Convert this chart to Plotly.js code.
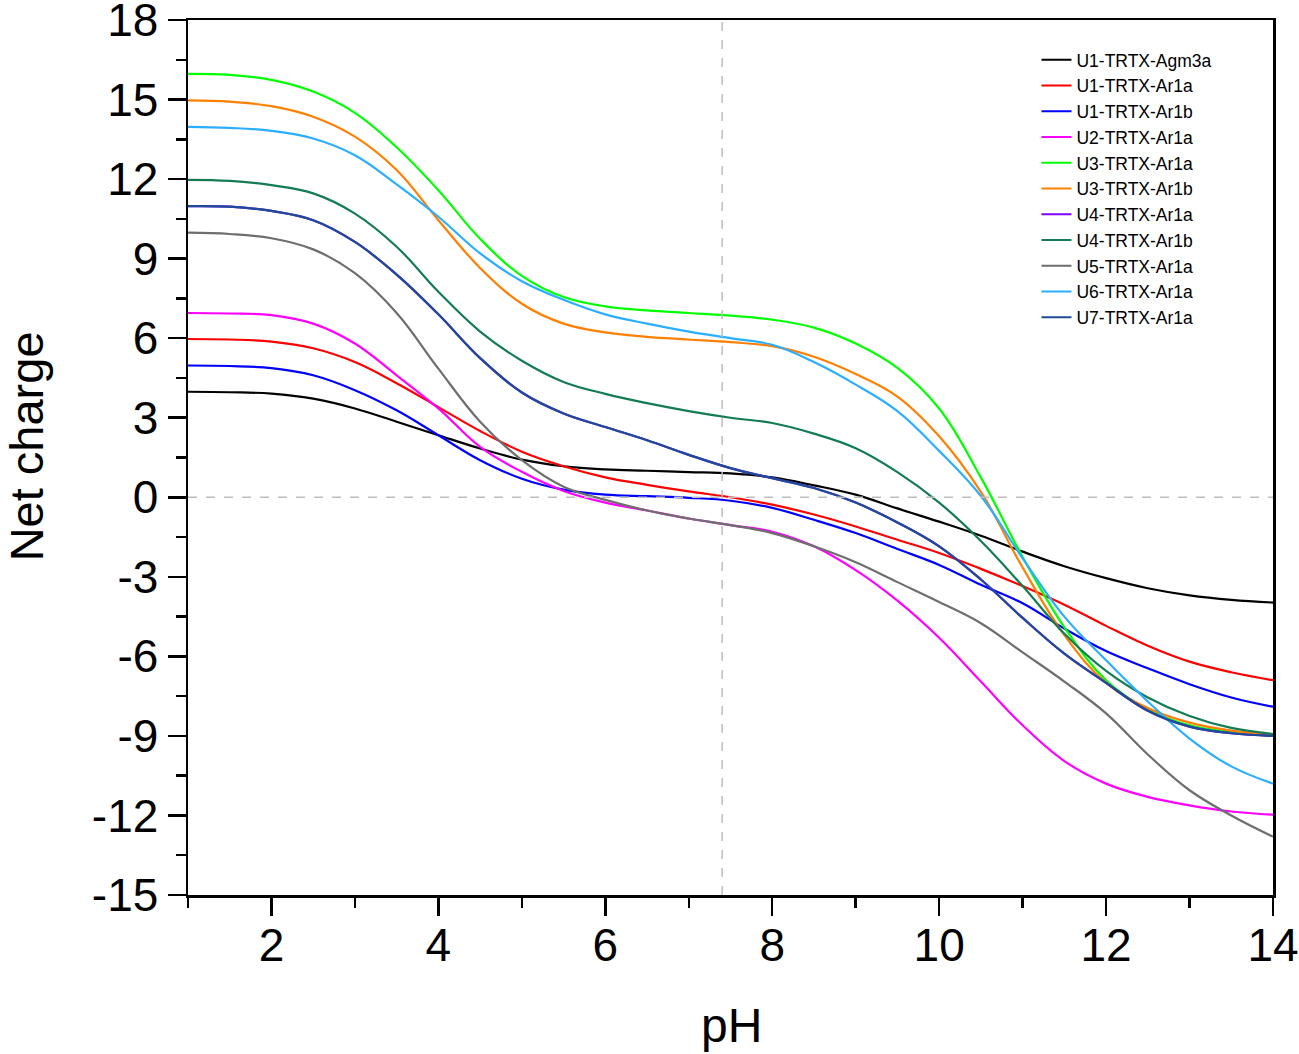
<!DOCTYPE html>
<html>
<head>
<meta charset="utf-8">
<script src="https://cdn.plot.ly/plotly-3.0.1.min.js"></script>
<style>html,body{margin:0;padding:0;background:#fff;}#chart{width:1299px;height:1054px;}</style>
</head>
<body>
<div id="chart"></div>
<script>
const pH = [1,1.5,2,2.5,3,3.5,4,4.5,5,5.5,6,6.5,7,7.5,8,8.5,9,9.5,10,10.5,11,11.5,12,12.5,13,13.5,14];

const U1_Agm3a = [3.98,3.96,3.91,3.72,3.35,2.85,2.34,1.84,1.42,1.17,1.05,1.0,0.95,0.9,0.75,0.45,0.1,-0.42,-0.92,-1.45,-2.05,-2.6,-3.05,-3.43,-3.7,-3.87,-3.97];
const U1_Ar1a  = [5.97,5.95,5.87,5.62,5.1,4.3,3.4,2.5,1.72,1.17,0.75,0.47,0.22,0.0,-0.28,-0.65,-1.1,-1.6,-2.1,-2.7,-3.35,-4.05,-4.85,-5.6,-6.2,-6.6,-6.9];
const U1_Ar1b  = [4.97,4.95,4.87,4.6,4.04,3.28,2.34,1.4,0.7,0.29,0.1,0.04,-0.02,-0.13,-0.4,-0.85,-1.35,-1.95,-2.55,-3.3,-4.0,-4.95,-5.8,-6.45,-7.05,-7.55,-7.9];
const U2_Ar1a  = [6.95,6.93,6.87,6.55,5.8,4.6,3.35,1.9,0.96,0.24,-0.2,-0.5,-0.8,-1.05,-1.3,-1.85,-2.75,-3.9,-5.3,-6.95,-8.6,-9.95,-10.8,-11.3,-11.62,-11.85,-11.97];
const U3_Ar1a  = [15.97,15.93,15.74,15.3,14.5,13.2,11.58,9.75,8.35,7.55,7.2,7.05,6.95,6.85,6.7,6.4,5.8,4.88,3.35,0.75,-2.25,-4.9,-6.9,-8.0,-8.6,-8.85,-9.0];
const U3_Ar1b  = [14.97,14.92,14.75,14.35,13.6,12.34,10.45,8.65,7.3,6.55,6.22,6.05,5.95,5.85,5.7,5.3,4.65,3.8,2.3,0.2,-2.65,-5.2,-7.0,-7.95,-8.5,-8.8,-8.95];
const U4_Ar1a  = [10.98,10.96,10.8,10.45,9.63,8.4,6.9,5.25,3.95,3.16,2.65,2.15,1.6,1.1,0.72,0.35,-0.2,-0.95,-1.85,-3.1,-4.55,-5.9,-7.0,-8.05,-8.65,-8.9,-9.0];
const U4_Ar1b  = [11.97,11.93,11.77,11.46,10.7,9.45,7.75,6.25,5.15,4.35,3.9,3.55,3.25,3.0,2.8,2.4,1.85,0.95,-0.2,-1.65,-3.35,-5.15,-6.55,-7.55,-8.25,-8.7,-8.93];
const U5_Ar1a  = [9.98,9.93,9.77,9.35,8.45,6.95,4.85,2.85,1.4,0.4,-0.1,-0.5,-0.8,-1.05,-1.35,-1.85,-2.45,-3.2,-3.95,-4.75,-5.85,-6.95,-8.15,-9.7,-11.05,-12.0,-12.8];
const U6_Ar1a  = [13.97,13.93,13.82,13.53,12.9,11.8,10.58,9.2,8.15,7.45,6.9,6.55,6.25,6.0,5.75,5.1,4.25,3.25,1.75,0.05,-2.3,-4.5,-6.15,-7.7,-9.1,-10.15,-10.8];
const U7_Ar1a  = [10.98,10.96,10.8,10.45,9.63,8.4,6.9,5.25,3.95,3.16,2.65,2.15,1.6,1.1,0.72,0.35,-0.2,-0.95,-1.85,-3.1,-4.55,-5.9,-7.0,-8.05,-8.65,-8.9,-9.0];

const names = ['U1-TRTX-Agm3a','U1-TRTX-Ar1a','U1-TRTX-Ar1b','U2-TRTX-Ar1a','U3-TRTX-Ar1a','U3-TRTX-Ar1b','U4-TRTX-Ar1a','U4-TRTX-Ar1b','U5-TRTX-Ar1a','U6-TRTX-Ar1a','U7-TRTX-Ar1a'];
const series = [U1_Agm3a,U1_Ar1a,U1_Ar1b,U2_Ar1a,U3_Ar1a,U3_Ar1b,U4_Ar1a,U4_Ar1b,U5_Ar1a,U6_Ar1a,U7_Ar1a];
const colors = ['#000000','#ff0000','#0000ff','#ff00ff','#00ff00','#ff7f00','#8000ff','#147c52','#6e6e6e','#2aaeff','#1d4c96'];

const yTicks = [-15,-12,-9,-6,-3,0,3,6,9,12,15,18];
const xTicks = [2,4,6,8,10,12,14];

const traces = series.map((s,i)=>({
  x: pH, y: s, name: names[i], type:'scatter', mode:'lines',
  line:{color:colors[i], width:2.2, shape:'spline', smoothing:1.1}
}));

const FONT = 'Liberation Sans, Arial, sans-serif';
const layout = {
  width:1299, height:1054,
  margin:{l:188, r:26, t:20, b:159},
  paper_bgcolor:'#fff', plot_bgcolor:'#fff',
  font:{family:FONT, color:'#000'},
  showlegend:true,
  legend:{x:0.782, y:0.975, xanchor:'left', yanchor:'top', bgcolor:'rgba(0,0,0,0)', borderwidth:0,
          font:{family:FONT, size:17.5, color:'#000'}, tracegroupgap:0},
  xaxis:{range:[1,14], tickvals:xTicks, ticktext:xTicks.map(String), showgrid:false, zeroline:false,
         showline:true, linecolor:'#000', linewidth:2.5, mirror:true,
         ticks:'outside', ticklen:18, tickwidth:2.5, tickcolor:'#000',
         minor:{ticks:'outside', dtick:1, tick0:1, ticklen:10, tickwidth:2.5, tickcolor:'#000', showgrid:false},
         tickfont:{family:FONT, size:46, color:'#000'}, ticklabelstandoff:-10, ticklabeloverflow:'allow'},
  yaxis:{range:[-15.0001,18.0001], tickvals:yTicks, ticktext:yTicks.map(String), showgrid:false, zeroline:false,
         showline:true, linecolor:'#000', linewidth:2.5, mirror:true,
         ticks:'outside', ticklen:18, tickwidth:2.5, tickcolor:'#000',
         minor:{ticks:'outside', dtick:1.5, tick0:0, ticklen:10, tickwidth:2.5, tickcolor:'#000', showgrid:false},
         tickfont:{family:FONT, size:46, color:'#000'}, ticklabeloverflow:'allow'},
  annotations:[
    {text:'pH', xref:'paper', yref:'paper', x:0.5005, y:-0.1486, xanchor:'center', yanchor:'middle', showarrow:false,
     font:{family:FONT, size:48, color:'#000'}},
    {text:'Net charge', xref:'paper', yref:'paper', x:-0.1485, y:0.5126, xanchor:'center', yanchor:'middle', showarrow:false,
     textangle:-90, font:{family:FONT, size:47, color:'#000'}}
  ],
  shapes:[
    {type:'line', xref:'x', yref:'paper', x0:7.4, x1:7.4, y0:0, y1:1, layer:'above', line:{color:'#bdbdbd', width:1.5, dash:'dash'}},
    {type:'line', xref:'paper', yref:'y', x0:0, x1:1, y0:0, y1:0, layer:'above', line:{color:'#bdbdbd', width:1.5, dash:'dash'}}
  ]
};
Plotly.newPlot('chart', traces, layout, {displayModeBar:false, staticPlot:true});
</script>
</body>
</html>
